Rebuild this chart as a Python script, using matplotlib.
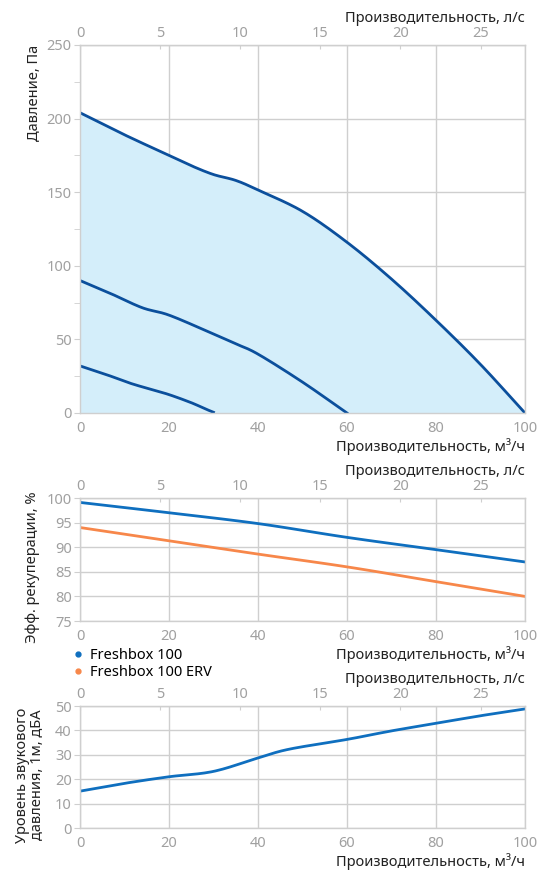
import numpy as np
import matplotlib.pyplot as plt
from matplotlib.lines import Line2D

plt.rcParams['font.family'] = ['Noto Sans', 'DejaVu Sans']

# pressure curves, m3/h -> Pa
flow_max = [0, 10, 20, 25, 30, 35, 40, 50, 60, 70, 80, 90, 100]
pres_max = [204, 189, 175, 168, 162, 158, 151.5, 137, 116, 91, 63, 33, 0]
flow_mid = [0, 7, 14, 20, 29, 35, 40, 50, 60]
pres_mid = [90, 81, 71.5, 66.5, 55, 47, 40, 21, 0]
flow_low = [0, 6, 11, 16, 20, 25, 28, 30]
pres_low = [32, 26, 20.5, 16, 12.5, 7, 3, 0.5]

# efficiency
flow_eff = [0, 20, 40, 60, 80, 100]
eff_fb = [99.1, 97.0, 94.8, 92.0, 89.5, 87.0]
eff_erv = [94.0, 91.3, 88.6, 86.0, 83.0, 80.0]

# sound
flow_snd = [0, 10, 20, 30, 40, 47, 60, 70, 80, 90, 100]
snd = [15.1, 18.3, 21.0, 23.2, 28.7, 32.3, 36.3, 39.8, 42.9, 46.0, 48.8]

series_names = ["Freshbox 100", "Freshbox 100 ERV"]

DARK = "#0b4f9c"
BLUE = "#0f6fbf"
ORANGE = "#f7874a"
GRID = "#cfcfcf"
TICK = "#a0a0a0"


def m3h_to_ls(x):
    return x / 3.6


def ls_to_m3h(x):
    return x * 3.6


def smooth(x, y):
    x = np.asarray(x, float)
    y = np.asarray(y, float)
    # catmull-rom through the read points
    xs, ys = [], []
    P = np.column_stack([x, y])
    P = np.vstack([P[0] * 2 - P[1], P, P[-1] * 2 - P[-2]])
    for i in range(1, len(P) - 2):
        p0, p1, p2, p3 = P[i - 1], P[i], P[i + 1], P[i + 2]
        t = np.linspace(0, 1, 20, endpoint=False)[:, None]
        c = 0.5 * ((2 * p1) + (-p0 + p2) * t + (2 * p0 - 5 * p1 + 4 * p2 - p3) * t ** 2
                   + (-p0 + 3 * p1 - 3 * p2 + p3) * t ** 3)
        xs.extend(c[:, 0])
        ys.extend(c[:, 1])
    xs.append(x[-1])
    ys.append(y[-1])
    return np.array(xs), np.array(ys)


def style(ax, ylim, yticks):
    ax.set_xlim(0, 100)
    ax.set_ylim(*ylim)
    ax.set_yticks(yticks)
    ax.set_xticks([0, 20, 40, 60, 80, 100])
    ax.grid(True, color=GRID, lw=1)
    ax.set_axisbelow(True)
    for s in ax.spines.values():
        s.set_color(GRID)
        s.set_linewidth(1)
    ax.tick_params(colors=GRID, labelcolor=TICK, labelsize=10.5, length=4, pad=2)
    ax.tick_params(axis='x', length=0, pad=6)
    ax.set_xlabel("Производительность, м³/ч", fontsize=10.5, color="#222222",
                  loc="right", labelpad=1)
    sec = ax.secondary_xaxis('top', functions=(m3h_to_ls, ls_to_m3h))
    sec.set_xticks([0, 5, 10, 15, 20, 25])
    sec.tick_params(colors=GRID, labelcolor=TICK, labelsize=10.5, length=3,
                    direction='in', pad=3)
    for s in sec.spines.values():
        s.set_color(GRID)
    sec.set_xlabel("Производительность, л/с", fontsize=10.5, color="#222222",
                   loc="right", labelpad=3)
    return sec


fig = plt.figure(figsize=(5.38, 8.73), dpi=100)
L, W = 80 / 538, 445 / 538

# top: pressure
ax1 = fig.add_axes([L, (873 - 413) / 873, W, 368 / 873])
style(ax1, (0, 250), [0, 50, 100, 150, 200, 250])
ax1.set_yticks([25, 75, 125, 175, 225], minor=True)
ax1.tick_params(axis='y', which='minor', colors=GRID, length=4)
xs, ys = smooth(flow_max, pres_max)
ax1.fill_between(xs, 0, ys, color="#d4eefa", lw=0)
ax1.plot(xs, ys, color=DARK, lw=2)
xs, ys = smooth(flow_mid, pres_mid)
ax1.plot(xs, ys, color=DARK, lw=2)
xs, ys = smooth(flow_low, pres_low)
ax1.plot(xs, ys, color=DARK, lw=2)
fig.text(34 / 538, 1 - 93 / 873, "Давление, Па", rotation=90, ha="center",
         va="center", fontsize=10.5, color="#222222")

# middle: efficiency
ax2 = fig.add_axes([L, (873 - 621) / 873, W, 123 / 873])
style(ax2, (75, 100), [75, 80, 85, 90, 95, 100])
xs, ys = smooth(flow_eff, eff_fb)
ax2.plot(xs, ys, color=BLUE, lw=2)
xs, ys = smooth(flow_eff, eff_erv)
ax2.plot(xs, ys, color=ORANGE, lw=2)
fig.text(33 / 538, 1 - 567 / 873, "Эфф. рекуперации, %", rotation=90, ha="center",
         va="center", fontsize=10.5, color="#222222")
handles = [Line2D([], [], ls="none", marker="o", ms=3.5, color=BLUE),
           Line2D([], [], ls="none", marker="o", ms=3.5, color=ORANGE)]
fig.legend(handles, series_names, loc="upper left",
           bbox_to_anchor=(74 / 538, 1 - 648 / 873), frameon=False,
           fontsize=10.5, handlelength=0.6, handletextpad=0.5,
           labelspacing=0.15, borderpad=0, borderaxespad=0)

# bottom: sound
ax3 = fig.add_axes([L, (873 - 828) / 873, W, 122 / 873])
style(ax3, (0, 50), [0, 10, 20, 30, 40, 50])
xs, ys = smooth(flow_snd, snd)
ax3.plot(xs, ys, color=BLUE, lw=2)
fig.text(30 / 538, 1 - 775 / 873, "Уровень звукового\nдавления, 1м, дБА",
         rotation=90, ha="center", va="center", fontsize=10.5, color="#222222",
         linespacing=1.0)

fig.savefig("out.png", dpi=100)
